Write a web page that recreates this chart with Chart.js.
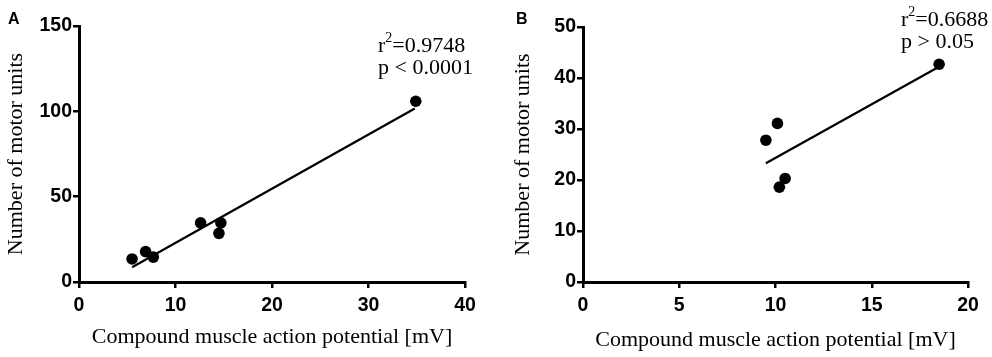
<!DOCTYPE html>
<html><head><meta charset="utf-8">
<script src="https://cdn.jsdelivr.net/npm/chart.js@4/dist/chart.umd.min.js"></script>
<style>
html,body{margin:0;padding:0;background:#fff;width:992px;height:357px;overflow:hidden;}
.p{position:absolute;top:0;width:496px;height:357px;}
.lab{position:absolute;top:10px;font:bold 16px "Liberation Sans",Arial,sans-serif;color:#000;}
</style></head><body>
<div class="p" style="left:0"><canvas id="cA" width="496" height="357"></canvas></div>
<div class="p" style="left:496px"><canvas id="cB" width="496" height="357"></canvas></div>
<div class="lab" style="left:8px">A</div>
<div class="lab" style="left:516px">B</div>
<script>
// Panel A data
const cmapA = [5.5, 6.9, 7.7, 12.6, 14.7, 14.5, 34.9];
const munA  = [13.5, 17.8, 14.6, 34.7, 34.7, 28.5, 105.9];
const fitXA = [5.5, 34.8];
const fitYA = [8.6, 101.7];
const xTicksA = [0, 10, 20, 30, 40];
const yTicksA = [0, 50, 100, 150];
const statsA = ["0.9748", "p < 0.0001"];
// Panel B data
const cmapB = [9.5, 10.1, 10.2, 10.5, 18.5];
const munB  = [27.8, 31.1, 18.6, 20.3, 42.7];
const fitXB = [9.5, 18.4];
const fitYB = [23.3, 42.0];
const xTicksB = [0, 5, 10, 15, 20];
const yTicksB = [0, 10, 20, 30, 40, 50];
const statsB = ["0.6688", "p > 0.05"];

const xTitle = "Compound muscle action potential [mV]";
const yTitle = "Number of motor units";

const statsPlugin = {
  id: 'stats',
  afterDraw(chart, args, opts) {
    const ctx = chart.ctx;
    ctx.save();
    ctx.fillStyle = '#000';
    ctx.textBaseline = 'alphabetic';
    ctx.textAlign = 'left';
    const big = '22px "Liberation Serif","Times New Roman",serif';
    const small = '14px "Liberation Serif","Times New Roman",serif';
    let x = opts.x, y = opts.y;
    ctx.font = big; ctx.fillText('r', x, y);
    x += ctx.measureText('r').width;
    ctx.font = small; ctx.fillText('2', x, y - 10);
    x += ctx.measureText('2').width;
    ctx.font = big; ctx.fillText('=' + opts.r, x, y);
    ctx.fillText(opts.p, opts.x, y + opts.gap);
    ctx.restore();
  }
};

function makeChart(id, xs, ys, fx, fy, xt, yt, stats, geom) {
  const pts = xs.map((v, i) => ({x: v, y: ys[i]}));
  const fit = fx.map((v, i) => ({x: v, y: fy[i]}));
  const axisCommon = (ticksArr, title, isX) => ({
    type: 'linear',
    min: ticksArr[0], max: ticksArr[ticksArr.length - 1],
    afterBuildTicks: s => { s.ticks = ticksArr.map(v => ({value: v})); },
    afterFit: s => { if (isX) s.height = geom.xh; else s.width = geom.yw; },
    border: {display: true, color: '#000', width: 3},
    grid: {drawOnChartArea: false, color: '#000', lineWidth: 2.5, tickLength: 6, drawTicks: true},
    ticks: {color: '#000', padding: isX ? 6 : 1, font: {family: '"Liberation Sans", Arial, sans-serif', size: 19.5, weight: 'bold'}, maxRotation: 0, autoSkip: false},
    title: {display: true, text: title, color: '#000',
      font: {family: '"Liberation Serif","Times New Roman",serif', size: 22, weight: 'normal'},
      padding: isX ? {top: 0, bottom: geom.xtp} : {top: geom.ytp, bottom: 0}}
  });
  return new Chart(document.getElementById(id), {
    type: 'scatter',
    data: {datasets: [
      {data: pts, pointRadius: 5.8, pointBackgroundColor: '#000', pointBorderWidth: 0, showLine: false, order: 1},
      {data: fit, showLine: true, borderColor: '#000', borderWidth: 2.2, pointRadius: 0, fill: false, order: 2}
    ]},
    options: {
      responsive: false, animation: false, devicePixelRatio: 1,
      layout: {padding: {left: 0, right: geom.pr, top: geom.pt, bottom: 0}},
      plugins: {legend: {display: false}, tooltip: {enabled: false},
        stats: {r: stats[0], p: stats[1], x: geom.sx, y: geom.sy, gap: 22}},
      scales: {x: axisCommon(xt, xTitle, true), y: axisCommon(yt, yTitle, false)}
    },
    plugins: [statsPlugin]
  });
}

makeChart('cA', cmapA, munA, fitXA, fitYA, xTicksA, yTicksA, statsA,
  {yw: 79, xh: 75, pr: 31, pt: 26, xtp: 7, ytp: 3, sx: 378, sy: 52});
makeChart('cB', cmapB, munB, fitXB, fitYB, xTicksB, yTicksB, statsB,
  {yw: 87, xh: 75, pr: 24, pt: 27, xtp: 4, ytp: 14, sx: 405, sy: 26});
</script>
</body></html>
